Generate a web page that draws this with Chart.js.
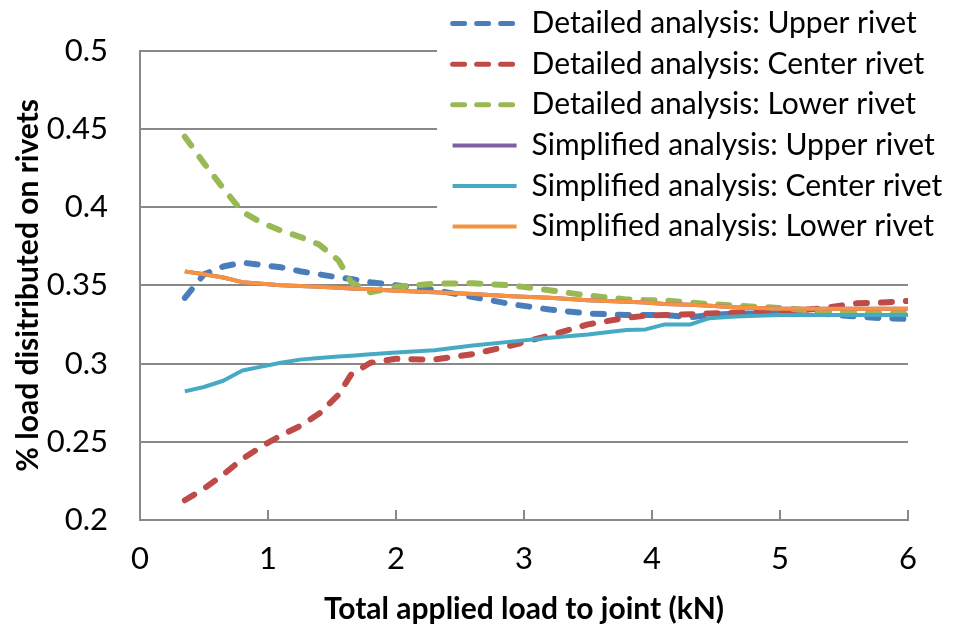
<!DOCTYPE html>
<html>
<head>
<meta charset="utf-8">
<script src="https://cdn.jsdelivr.net/npm/chart.js@4"></script>
<style>
  html, body { margin: 0; padding: 0; background: #fff; }
</style>
</head>
<body>
<canvas id="rivet-chart" width="954" height="625"></canvas>
<script>
// Applied load steps (kN)
const loads = [0.35, 0.5, 0.65, 0.8, 0.95, 1.1, 1.25, 1.4, 1.55, 1.65, 1.8, 2.0, 2.3, 2.6, 2.9,
  3.2, 3.5, 3.8, 3.95, 4.1, 4.3, 4.45, 4.65, 5.0, 5.3, 5.6, 5.8, 6.0];

// Share of the load taken by each rivet
const detailedUpper = [0.342, 0.357, 0.362, 0.3645, 0.363, 0.3615, 0.359, 0.357, 0.355, 0.354, 0.352, 0.350,
  0.347, 0.3425, 0.338, 0.3345, 0.332, 0.331, 0.331, 0.331, 0.3295, 0.331, 0.332, 0.332, 0.332, 0.330, 0.329, 0.3285];
const detailedCenter = [0.2126, 0.220, 0.229, 0.239, 0.247, 0.254, 0.260, 0.268, 0.280, 0.293, 0.3005, 0.303,
  0.3025, 0.306, 0.3115, 0.318, 0.325, 0.3293, 0.3305, 0.331, 0.3315, 0.332, 0.3325, 0.333, 0.335, 0.3385, 0.339, 0.340];
const detailedLower = [0.445, 0.428, 0.412, 0.397, 0.390, 0.385, 0.381, 0.376, 0.366, 0.352, 0.3455, 0.349,
  0.351, 0.3513, 0.350, 0.3468, 0.3435, 0.341, 0.3405, 0.3403, 0.339, 0.338, 0.337, 0.3355, 0.3335, 0.3325, 0.332, 0.332];
const simplifiedUpper = [0.3589, 0.357, 0.355, 0.352, 0.351, 0.350, 0.3495, 0.349, 0.3485, 0.348, 0.3475, 0.3465,
  0.3455, 0.3445, 0.343, 0.342, 0.3405, 0.3395, 0.339, 0.338, 0.3375, 0.337, 0.336, 0.335, 0.335, 0.335, 0.335, 0.335];
const simplifiedCenter = [0.2822, 0.285, 0.289, 0.2955, 0.298, 0.3005, 0.3025, 0.3035, 0.3045, 0.305, 0.306, 0.307,
  0.3085, 0.3115, 0.314, 0.3165, 0.3185, 0.3215, 0.3218, 0.325, 0.325, 0.329, 0.330, 0.331, 0.331, 0.331, 0.331, 0.331];
const simplifiedLower = [0.3589, 0.357, 0.355, 0.352, 0.351, 0.350, 0.3495, 0.349, 0.3485, 0.348, 0.3475, 0.3465,
  0.3455, 0.3445, 0.343, 0.342, 0.3405, 0.3395, 0.339, 0.338, 0.3375, 0.337, 0.336, 0.335, 0.335, 0.335, 0.335, 0.335];

const seriesLabels = [
  'Detailed analysis: Upper rivet',
  'Detailed analysis: Center rivet',
  'Detailed analysis: Lower rivet',
  'Simplified analysis: Upper rivet',
  'Simplified analysis: Center rivet',
  'Simplified analysis: Lower rivet'
];
const seriesValues = [detailedUpper, detailedCenter, detailedLower, simplifiedUpper, simplifiedCenter, simplifiedLower];
const seriesColors = ['#4a7ebb', '#be4b48', '#98b954', '#7d60a0', '#46aac5', '#f69240'];

const FONT = 'Lato, "Open Sans", sans-serif';
const axisGray = '#898989';

const datasets = seriesValues.map((vals, i) => {
  const dashed = i < 3;
  return {
    label: seriesLabels[i],
    data: vals.map((v, k) => ({ x: loads[k], y: v })),
    borderColor: seriesColors[i],
    backgroundColor: seriesColors[i],
    borderWidth: dashed ? 6 : 4,
    borderDash: dashed ? [11, 14] : [],
    borderCapStyle: dashed ? 'round' : 'butt',
    borderJoinStyle: 'round',
    pointRadius: 0,
    tension: 0,
    fill: false,
    order: seriesValues.length - i // later series are painted on top
  };
});

// Legend sits over the top right of the plot on a white backdrop
const legendPlacement = {
  id: 'legendPlacement',
  afterLayout(chart) {
    const lg = chart.legend;
    lg.left = 442;
    lg.right = 954;
    lg.top = -2;
    lg.bottom = 270;
    lg.width = lg.right - lg.left;
    lg.height = lg.bottom - lg.top;
    if (!lg.$backdrop) {
      const baseDraw = lg.draw;
      lg.draw = function (area) {
        const ctx = this.ctx;
        ctx.save();
        ctx.fillStyle = '#ffffff';
        ctx.fillRect(437, 0, 517, 248);
        ctx.restore();
        baseDraw.call(this, area);
      };
      lg.$backdrop = true;
    }
  }
};

const defaultLabels = Chart.defaults.plugins.legend.labels.generateLabels;

new Chart(document.getElementById('rivet-chart'), {
  type: 'line',
  data: { datasets },
  plugins: [legendPlacement],
  options: {
    responsive: false,
    animation: false,
    layout: { padding: { left: 0, top: 46, right: 46, bottom: 0 } },
    plugins: {
      tooltip: { enabled: false },
      legend: {
        position: 'chartArea',
        align: 'start',
        labels: {
          usePointStyle: true,
          pointStyle: 'line',
          pointStyleWidth: 64,
          padding: 10.6,
          color: '#000',
          font: { family: FONT, size: 30 },
          sort: (a, b) => a.datasetIndex - b.datasetIndex,
          generateLabels(chart) {
            return defaultLabels(chart).map((item) => {
              const ds = chart.data.datasets[item.datasetIndex];
              item.lineDash = ds.borderDash.length ? [12, 12] : [];
              item.lineCap = ds.borderCapStyle;
              item.lineWidth = ds.borderDash.length ? 5 : 4;
              return item;
            });
          }
        }
      }
    },
    scales: {
      x: {
        type: 'linear',
        min: 0,
        max: 6,
        afterFit: (scale) => { scale.height = 105; },
        ticks: {
          stepSize: 1,
          color: '#000',
          padding: 30,
          font: { family: FONT, size: 31 }
        },
        grid: {
          drawOnChartArea: false,
          drawTicks: true,
          tickLength: -10,
          color: axisGray,
          lineWidth: 2
        },
        border: { color: axisGray, width: 2 },
        title: {
          display: true,
          text: 'Total applied load to joint (kN)',
          color: '#000',
          font: { family: FONT, size: 30, weight: 'bold' },
          padding: { top: 0, bottom: -2 }
        }
      },
      y: {
        min: 0.2,
        max: 0.5,
        afterFit: (scale) => { scale.width = 140; },
        ticks: {
          stepSize: 0.05,
          color: '#000',
          padding: 32,
          font: { family: FONT, size: 31 },
          callback: (v) => String(+v.toFixed(2))
        },
        grid: {
          drawTicks: false,
          color: axisGray,
          lineWidth: 2
        },
        border: { color: axisGray, width: 2 },
        title: {
          display: true,
          text: '% load disitributed on rivets',
          color: '#000',
          font: { family: FONT, size: 30, weight: 'bold' },
          padding: { top: 10, bottom: 0 }
        }
      }
    }
  }
});
</script>
</body>
</html>
